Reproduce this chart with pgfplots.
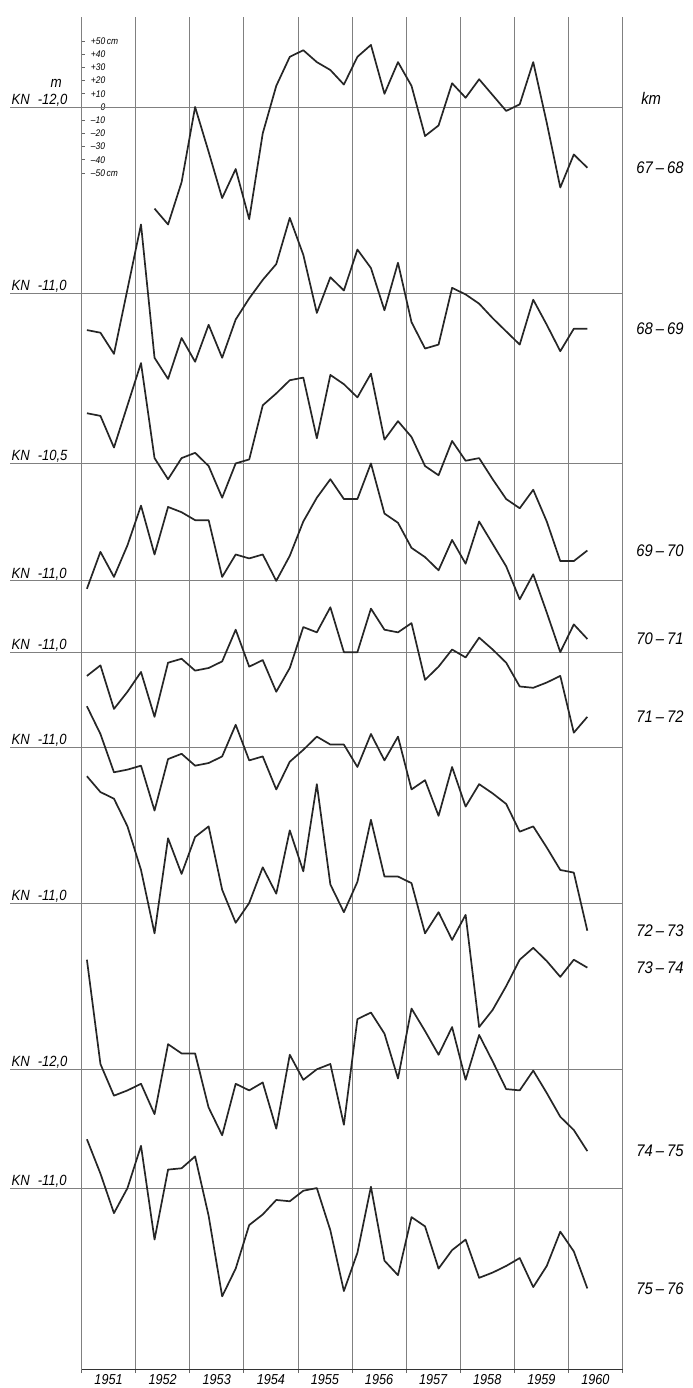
\documentclass[border=0pt]{standalone}
\usepackage{fontspec}
\setmainfont{Liberation Sans}[FakeStretch=0.88]
\usepackage{pgfplots}
\usepackage{pgfplotstable}
\pgfplotsset{compat=1.18}

% Quarterly water levels in cm relative to each section's KN reference level.
% t = year + position of the reading within the year.
\pgfplotstableread{
t        s1
1952.35 -77
1952.60 -89
1952.85 -57
1953.10   0
1953.35 -34
1953.60 -69
1953.85 -47
1954.10 -85
1954.35 -20
1954.60  16
1954.85  38
1955.10  43
1955.35  34
1955.60  28
1955.85  17
1956.10  38
1956.35  47
1956.60  10
1956.85  34
1957.10  16
1957.35 -22
1957.60 -14
1957.85  18
1958.10   7
1958.35  21
1958.60   9
1958.85  -3
1959.10   2
1959.35  34
1959.60 -12
1959.85 -61
1960.10 -36
1960.35 -46
}\kmA

\pgfplotstableread{
t        s2   s3   s4   s5   s6   s7   s8   s9
1951.10 -28   38   -6  -18   31   96   83   37
1951.35 -30   36   22  -10   10   84    4   11
1951.60 -46   12    3  -43  -19   79  -20  -19
1951.85   3   44   27  -30  -17   58  -16    0
1952.10  52   76   57  -15  -14   25  -11   32
1952.35 -49    4   20  -49  -48  -23  -34  -39
1952.60 -65  -12   56   -8   -9   49   19   14
1952.85 -34    4   52   -5   -5   22   12   15
1953.10 -52    8   46  -14  -14   50   12   24
1953.35 -24   -2   46  -12  -12   58  -29  -21
1953.60 -49  -26    3   -7   -7   10  -50  -82
1953.85 -20    0   20   17   17  -15  -11  -61
1954.10  -4    3   17  -11  -10    0  -16  -28
1954.35  10   44   20   -6   -7   27  -10  -20
1954.60  22   53    0  -30  -32    7  -45   -9
1954.85  57   63   19  -12  -11   55   11  -10
1955.10  29   65   45   19   -2   24   -8   -2
1955.35 -15   19   63   15    8   90    0    0
1955.60  12   67   77   34    2   14    4  -32
1955.85   2   60   62    0    2   -7  -42  -78
1956.10  33   50   62    0  -15   16   38  -49
1956.35  19   68   89   33   10   63   43    1
1956.60 -13   18   51   17  -10   20   27  -55
1956.85  23   32   44   15    8   20   -7  -66
1957.10 -22   20   25   22  -32   15   46  -22
1957.35 -42   -2   18  -21  -25  -23   29  -29
1957.60 -39   -9    8  -11  -52   -7   11  -61
1957.85   4   17   31    2  -15  -28   32  -47
1958.10  -1    2   13   -4  -45   -9   -8  -39
1958.35  -8    4   45   11  -28  -94   26  -68
1958.60 -19  -12   28    2  -35  -81    6  -64
1958.85 -29  -27   11   -8  -43  -63  -15  -59
1959.10 -39  -34  -14  -26  -64  -43  -16  -53
1959.35  -5  -20    5  -27  -60  -34   -1  -75
1959.60 -24  -44  -24  -23  -76  -44  -18  -59
1959.85 -44  -74  -54  -18  -93  -56  -36  -33
1960.10 -27  -74  -33  -61  -95  -43  -46  -48
1960.35 -27  -66  -44  -49 -139  -49  -62  -76
}\kmB

% vertical position of each section's reference line on the sheet (cm)
\def\bA{0}
\def\bB{-141}
\def\bC{-270}
\def\bD{-359}
\def\bE{-413}
\def\bF{-485}
\def\bG{-603}
\def\bH{-729}
\def\bI{-819}

\tikzset{
  knline/.style={draw=black!50, line width=0.4pt},
  knlabel/.style={anchor=base west, inner sep=0pt, yshift=1.3pt,
    font=\fontsize{7.4}{8}\selectfont\itshape},
  kmlabel/.style={anchor=west, inner sep=0pt,
    font=\fontsize{8.4}{9}\selectfont\itshape},
  curve/.style={draw=black!85, line width=0.85pt, line join=round, mark=none},
}
\newcommand{\km}[2]{#1\kern0.18em–\kern0.18em#2}

\begin{document}
\begin{tikzpicture}
\begin{axis}[
  scale only axis,
  width=270.5pt, height=676.5pt,
  xmin=1951, xmax=1961, ymin=-956.8, ymax=68.2,
  axis lines*=left,
  x axis line style={draw=black!80, line width=0.5pt},
  y axis line style={draw=black!50, line width=0.4pt},
  xtick={1951,1952,1953,1954,1955,1956,1957,1958,1959,1960,1961},
  x tick label as interval,
  xticklabels={1951,1952,1953,1954,1955,1956,1957,1958,1959,1960},
  xticklabel style={font=\fontsize{7.2}{8}\selectfont\itshape, yshift=3pt},
  xtick align=outside,
  xmajorgrids,
  grid style={draw=black!50, line width=0.4pt},
  ytick={-50,-40,-30,-20,-10,0,10,20,30,40,50},
  yticklabels={–50\,cm,–40,–30,–20,–10,\phantom{+1}0,+10,+20,+30,+40,+50\,cm},
  ytick align=inside,
  yticklabel style={anchor=west, xshift=1.2pt,
    font=\fontsize{4.8}{5}\selectfont\itshape},
  major tick length=1.6pt,
  tick style={draw=black!60, line width=0.4pt},
  clip=false,
]
% reference lines of the sections
\draw[knline] (axis cs:1949.68,\bA) -- (axis cs:1961,\bA);
\draw[knline] (axis cs:1949.68,\bB) -- (axis cs:1961,\bB);
\draw[knline] (axis cs:1949.68,\bC) -- (axis cs:1961,\bC);
\draw[knline] (axis cs:1949.68,\bD) -- (axis cs:1961,\bD);
\draw[knline] (axis cs:1949.68,\bE) -- (axis cs:1961,\bE);
\draw[knline] (axis cs:1949.68,\bF) -- (axis cs:1961,\bF);
\draw[knline] (axis cs:1949.68,\bG) -- (axis cs:1961,\bG);
\draw[knline] (axis cs:1949.68,\bH) -- (axis cs:1961,\bH);
\draw[knline] (axis cs:1949.68,\bI) -- (axis cs:1961,\bI);

% water level curves
\addplot[curve] table[x=t, y expr=\thisrow{s1}+\bA] {\kmA};
\addplot[curve] table[x=t, y expr=\thisrow{s2}+\bB] {\kmB};
\addplot[curve] table[x=t, y expr=\thisrow{s3}+\bC] {\kmB};
\addplot[curve] table[x=t, y expr=\thisrow{s4}+\bD] {\kmB};
\addplot[curve] table[x=t, y expr=\thisrow{s5}+\bE] {\kmB};
\addplot[curve] table[x=t, y expr=\thisrow{s6}+\bF] {\kmB};
\addplot[curve] table[x=t, y expr=\thisrow{s7}+\bG] {\kmB};
\addplot[curve] table[x=t, y expr=\thisrow{s8}+\bH] {\kmB};
\addplot[curve] table[x=t, y expr=\thisrow{s9}+\bI] {\kmB};

% reference level labels
\node[knlabel, anchor=base, yshift=0pt, font=\fontsize{7.6}{8}\selectfont\itshape]
  at (axis cs:1950.53,13) {m};
\node[knlabel] at (axis cs:1949.70,\bA) {KN\hspace{0.55em}-12,0};
\node[knlabel] at (axis cs:1949.70,\bB) {KN\hspace{0.55em}-11,0};
\node[knlabel] at (axis cs:1949.70,\bC) {KN\hspace{0.55em}-10,5};
\node[knlabel] at (axis cs:1949.70,\bD) {KN\hspace{0.55em}-11,0};
\node[knlabel] at (axis cs:1949.70,\bE) {KN\hspace{0.55em}-11,0};
\node[knlabel] at (axis cs:1949.70,\bF) {KN\hspace{0.55em}-11,0};
\node[knlabel] at (axis cs:1949.70,\bG) {KN\hspace{0.55em}-11,0};
\node[knlabel] at (axis cs:1949.70,\bH) {KN\hspace{0.55em}-12,0};
\node[knlabel] at (axis cs:1949.70,\bI) {KN\hspace{0.55em}-11,0};

% river kilometre of each section, level with the last reading
\node[kmlabel, anchor=base west, yshift=1.3pt] at (axis cs:1961.34,\bA) {km};
\node[kmlabel] at (axis cs:1961.25,-46)  {\km{67}{68}};
\node[kmlabel] at (axis cs:1961.25,-168) {\km{68}{69}};
\node[kmlabel] at (axis cs:1961.25,-336) {\km{69}{70}};
\node[kmlabel] at (axis cs:1961.25,-403) {\km{70}{71}};
\node[kmlabel] at (axis cs:1961.25,-462) {\km{71}{72}};
\node[kmlabel] at (axis cs:1961.25,-624) {\km{72}{73}};
\node[kmlabel] at (axis cs:1961.25,-652) {\km{73}{74}};
\node[kmlabel] at (axis cs:1961.25,-791) {\km{74}{75}};
\node[kmlabel] at (axis cs:1961.25,-895) {\km{75}{76}};

\coordinate (sheetSW) at (axis cs:1949.4935,-970.45);
\coordinate (sheetNE) at (axis cs:1962.285,81.06);
\end{axis}
\pgfresetboundingbox
\useasboundingbox (sheetSW) rectangle (sheetNE);
\end{tikzpicture}
\end{document}
